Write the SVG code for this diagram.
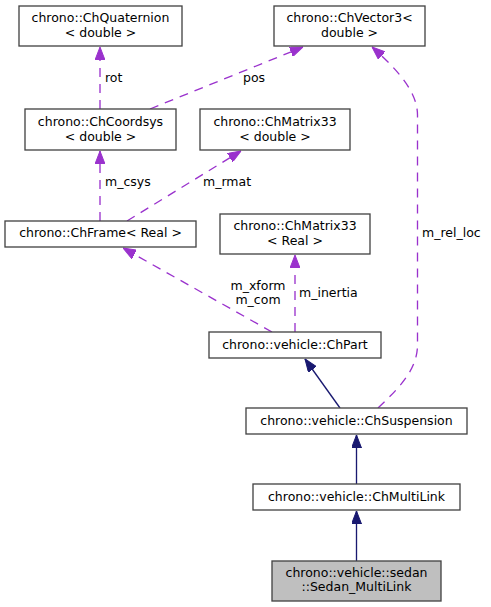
<svg xmlns="http://www.w3.org/2000/svg" width="491" height="607" viewBox="0 0 491 607">
<style>
.box{fill:#fff;stroke:#444;stroke-width:1.33}
.cur{fill:#bfbfbf;stroke:#444;stroke-width:1.33}
text{font-family:"DejaVu Sans","Liberation Sans",sans-serif;font-size:12.5px;fill:#000}
.c{text-anchor:middle}
.inh{fill:none;stroke:#191970;stroke-width:1.33}
.use{fill:none;stroke:#9a32cd;stroke-width:1.33;stroke-dasharray:9,7}
</style>
<defs>
<marker id="ai" viewBox="0 -5 13 10" refX="13" refY="0" markerWidth="13" markerHeight="10" markerUnits="userSpaceOnUse" orient="auto"><path d="M0,-5 L13,0 L0,5 Z" fill="#191970" stroke="#191970" stroke-width="1"/></marker>
<marker id="au" viewBox="0 -5 13 10" refX="13" refY="0" markerWidth="13" markerHeight="10" markerUnits="userSpaceOnUse" orient="auto"><path d="M0,-5 L13,0 L0,5 Z" fill="#9a32cd" stroke="#9a32cd" stroke-width="1"/></marker>
</defs>
<g id="connectors">
<path class="use" d="M100,109 L100,47" marker-end="url(#au)"/>
<text x="105" y="81.5">rot</text>
<path class="use" d="M150,109 L303,47" marker-end="url(#au)"/>
<text x="243" y="81.5">pos</text>
<path class="use" d="M100,221 L100,151" marker-end="url(#au)"/>
<text x="105" y="185.5">m_csys</text>
<path class="use" d="M127,221 L241,151" marker-end="url(#au)"/>
<text x="203" y="185.5">m_rmat</text>
<path class="use" d="M272,332 L123,248" marker-end="url(#au)"/>
<text class="c" x="258" y="289.5">m_xform</text>
<text class="c" x="258" y="303.5">m_com</text>
<path class="use" d="M295,332 L295,255" marker-end="url(#au)"/>
<text x="299" y="297">m_inertia</text>
<path class="use" d="M378,408 C398,389 417.5,370 417.5,345 L417.5,115 C417.5,92 398,70 372,47" marker-end="url(#au)"/>
<text x="422" y="237">m_rel_loc</text>
<path class="inh" d="M340,408 L305,359" marker-end="url(#ai)"/>
<path class="inh" d="M356.5,484 L356.5,435" marker-end="url(#ai)"/>
<path class="inh" d="M356.5,561 L356.5,511" marker-end="url(#ai)"/>
</g>
<g id="ChQuaternion"><rect class="box" x="19" y="6" width="163" height="40"/><text class="c" x="100.5" y="22">chrono::ChQuaternion</text><text class="c" x="100.5" y="37">&lt; double &gt;</text></g>
<g id="ChVector3"><rect class="box" x="274" y="6" width="151" height="40"/><text class="c" x="349.5" y="22">chrono::ChVector3&lt;</text><text class="c" x="349.5" y="37">double &gt;</text></g>
<g id="ChCoordsys"><rect class="box" x="25" y="109" width="151" height="41"/><text class="c" x="100.5" y="126">chrono::ChCoordsys</text><text class="c" x="100.5" y="141">&lt; double &gt;</text></g>
<g id="ChMatrix33_double"><rect class="box" x="200" y="109" width="150" height="41"/><text class="c" x="275" y="126">chrono::ChMatrix33</text><text class="c" x="275" y="141">&lt; double &gt;</text></g>
<g id="ChFrame"><rect class="box" x="5" y="221" width="191" height="26"/><text class="c" x="100.5" y="237">chrono::ChFrame&lt; Real &gt;</text></g>
<g id="ChMatrix33_Real"><rect class="box" x="220" y="214" width="150" height="40"/><text class="c" x="295" y="229.5">chrono::ChMatrix33</text><text class="c" x="295" y="244.5">&lt; Real &gt;</text></g>
<g id="ChPart"><rect class="box" x="209" y="332" width="172" height="26"/><text class="c" x="295" y="349">chrono::vehicle::ChPart</text></g>
<g id="ChSuspension"><rect class="box" x="246" y="408" width="221" height="26"/><text class="c" x="356.5" y="425">chrono::vehicle::ChSuspension</text></g>
<g id="ChMultiLink"><rect class="box" x="253" y="484" width="207" height="26"/><text class="c" x="356.5" y="501">chrono::vehicle::ChMultiLink</text></g>
<g id="Sedan_MultiLink"><rect class="cur" x="272" y="561" width="169" height="40"/><text class="c" x="356.5" y="577">chrono::vehicle::sedan</text><text class="c" x="356.5" y="591">::Sedan_MultiLink</text></g>
</svg>
